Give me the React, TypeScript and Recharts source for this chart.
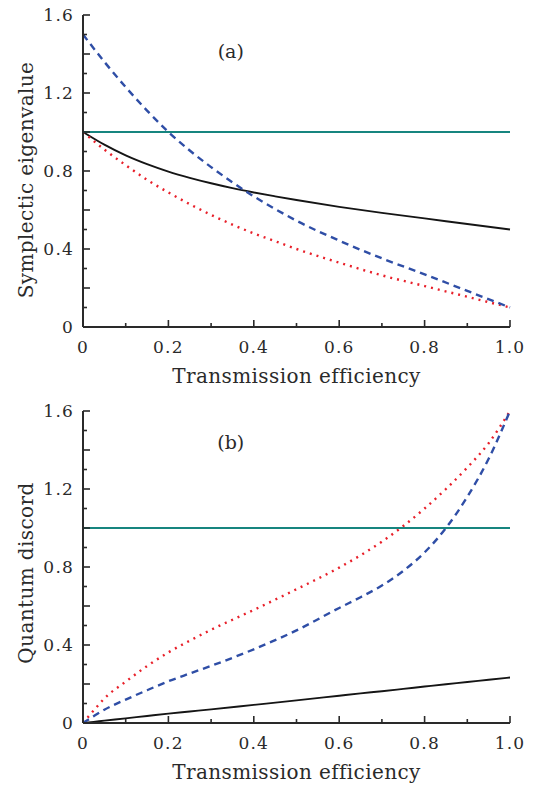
import React from "react";
import { Label, Line, LineChart, ReferenceDot, ReferenceLine, XAxis, YAxis } from "recharts";

// panel (a): symplectic eigenvalue vs transmission efficiency
const A_X = [0, 0.05, 0.1, 0.15, 0.2, 0.25, 0.3, 0.35, 0.4, 0.45, 0.5, 0.6, 0.7, 0.8, 0.9, 1.0];
const A_BLACK = [1.0, 0.935, 0.88, 0.835, 0.797, 0.765, 0.737, 0.712, 0.69, 0.67, 0.651, 0.616, 0.585, 0.557, 0.528, 0.5];
const A_RED = [1.0, 0.91, 0.83, 0.755, 0.69, 0.63, 0.575, 0.525, 0.48, 0.44, 0.4, 0.33, 0.265, 0.21, 0.155, 0.1];
const A_BLUE = [1.5, 1.36, 1.23, 1.11, 1.0, 0.905, 0.82, 0.742, 0.67, 0.605, 0.545, 0.443, 0.352, 0.27, 0.185, 0.1];

// panel (b): quantum discord vs transmission efficiency
const B_X = [0, 0.025, 0.05, 0.1, 0.15, 0.2, 0.25, 0.3, 0.4, 0.5, 0.6, 0.65, 0.7, 0.75, 0.8, 0.85, 0.9, 0.95, 1.0];
const B_BLACK = [0, 0.006, 0.012, 0.024, 0.036, 0.048, 0.059, 0.07, 0.093, 0.116, 0.14, 0.152, 0.163, 0.175, 0.187, 0.199, 0.21, 0.222, 0.233];
const B_RED = [0, 0.064, 0.126, 0.212, 0.292, 0.362, 0.422, 0.478, 0.58, 0.686, 0.797, 0.86, 0.93, 1.01, 1.1, 1.2, 1.31, 1.435, 1.6];
const B_BLUE = [0, 0.035, 0.068, 0.12, 0.168, 0.214, 0.254, 0.293, 0.378, 0.475, 0.59, 0.645, 0.705, 0.78, 0.875, 1.0, 1.16, 1.355, 1.6];

const THRESHOLD = 1;

const X_TICKS = [0, 0.1, 0.2, 0.3, 0.4, 0.5, 0.6, 0.7, 0.8, 0.9, 1.0];
const Y_TICKS = [0, 0.1, 0.2, 0.3, 0.4, 0.5, 0.6, 0.7, 0.8, 0.9, 1.0, 1.1, 1.2, 1.3, 1.4, 1.5, 1.6];
const X_LABELS = ["0", "0.2", "0.4", "0.6", "0.8", "1.0"];
const Y_LABELS = ["0", "0.4", "0.8", "1.2", "1.6"];

const FONT = "'DejaVu Serif', serif";
const INK = "#2a2a2a";
const TEAL = "#16857f";
const BLUE = "#2f4ea6";
const RED = "#e8202a";

const fmt = (v: number) => (Math.abs(v) < 1e-9 ? "0" : v.toFixed(1));
const isMajor = (v: number) => Math.abs(v * 5 - Math.round(v * 5)) < 1e-6;

function makeTick(side: "bottom" | "top" | "left" | "right", labels: string[]) {
  return (props: any) => {
    const { x, y, payload } = props;
    const v = payload.value as number;
    const len = isMajor(v) ? 7 : 4;
    const text = fmt(v);
    const show = labels.includes(text);
    let line;
    if (side === "bottom") line = <line x1={x} y1={y} x2={x} y2={y - len} />;
    else if (side === "top") line = <line x1={x} y1={y} x2={x} y2={y + len} />;
    else if (side === "left") line = <line x1={x} y1={y} x2={x + len} y2={y} />;
    else line = <line x1={x} y1={y} x2={x - len} y2={y} />;
    return (
      <g>
        <g stroke={INK} strokeWidth={1.6}>{line}</g>
        {show && side === "bottom" && (
          <text x={x} y={y + 26} textAnchor="middle" fontFamily={FONT} fontSize={17} letterSpacing={1.2} fill={INK}>
            {text}
          </text>
        )}
        {show && side === "left" && (
          <text x={x - 9} y={y} textAnchor="end" dominantBaseline="central" fontFamily={FONT} fontSize={17} letterSpacing={1.2} fill={INK}>
            {text}
          </text>
        )}
      </g>
    );
  };
}

type PanelProps = {
  x: number[];
  black: number[];
  red: number[];
  blue: number[];
  yTitle: string;
  tag: string;
  tagY: number;
  titleShift: number;
};

function Panel({ x, black, red, blue, yTitle, tag, tagY, titleShift }: PanelProps) {
  const data = x.map((xv, i) => ({ x: xv, black: black[i], red: red[i], blue: blue[i] }));
  const axisLine = { stroke: INK, strokeWidth: 2 };
  return (
    <LineChart width={538} height={392} data={data} margin={{ top: 15, right: 28, bottom: 0, left: 0 }}>
      <XAxis
        type="number"
        dataKey="x"
        domain={[0, 1]}
        ticks={X_TICKS}
        interval={0}
        height={65}
        tickSize={0}
        tickMargin={0}
        tickLine={false}
        axisLine={axisLine}
        tick={makeTick("bottom", X_LABELS)}
      >
        <Label
          content={({ viewBox }: any) => (
            <text
              x={viewBox.x + viewBox.width / 2}
              y={viewBox.y + 56}
              textAnchor="middle"
              fontFamily={FONT}
              fontSize={20}
              letterSpacing={0.4}
              fill={INK}
            >
              Transmission efficiency
            </text>
          )}
        />
      </XAxis>
      <XAxis
        xAxisId="top"
        orientation="top"
        type="number"
        dataKey="x"
        domain={[0, 1]}
        ticks={X_TICKS}
        interval={0}
        height={0}
        tickSize={0}
        tickMargin={0}
        tickLine={false}
        axisLine={axisLine}
        tick={makeTick("top", [])}
      />
      <YAxis
        type="number"
        domain={[0, 1.6]}
        ticks={Y_TICKS}
        interval={0}
        width={83}
        tickSize={0}
        tickMargin={0}
        tickLine={false}
        axisLine={axisLine}
        tick={makeTick("left", Y_LABELS)}
      >
        <Label
          content={({ viewBox }: any) => {
            const cx = 26;
            const cy = viewBox.y + viewBox.height / 2 + titleShift;
            return (
              <text
                x={cx}
                y={cy}
                transform={`rotate(-90 ${cx} ${cy})`}
                textAnchor="middle"
                dominantBaseline="central"
                fontFamily={FONT}
                fontSize={20}
                letterSpacing={0.4}
                fill={INK}
              >
                {yTitle}
              </text>
            );
          }}
        />
      </YAxis>
      <YAxis
        yAxisId="right"
        orientation="right"
        type="number"
        domain={[0, 1.6]}
        ticks={Y_TICKS}
        interval={0}
        width={0}
        tickSize={0}
        tickMargin={0}
        tickLine={false}
        axisLine={axisLine}
        tick={makeTick("right", [])}
      />
      <Line type="monotone" dataKey="black" stroke="#151515" strokeWidth={1.9} dot={false} activeDot={false} isAnimationActive={false} />
      <Line type="monotone" dataKey="red" stroke={RED} strokeWidth={2.4} strokeDasharray="2 5" dot={false} activeDot={false} isAnimationActive={false} />
      <Line type="monotone" dataKey="blue" stroke={BLUE} strokeWidth={2.4} strokeDasharray="7 5" dot={false} activeDot={false} isAnimationActive={false} />
      <ReferenceLine y={THRESHOLD} stroke={TEAL} strokeWidth={2.2} />
      <ReferenceDot
        x={0.346}
        y={tagY}
        r={0}
        fill="none"
        stroke="none"
        label={(p: any) => (
          <text
            x={p.viewBox.x + (p.viewBox.width || 0) / 2}
            y={p.viewBox.y + (p.viewBox.height || 0) / 2}
            textAnchor="middle"
            dominantBaseline="central"
            fontFamily={FONT}
            fontSize={19}
            fill={INK}
          >
            {tag}
          </text>
        )}
      />
    </LineChart>
  );
}

export default function App() {
  return (
    <div style={{ position: "absolute", left: 0, top: 0, width: 538, height: 785, background: "#fff" }}>
      <div style={{ position: "absolute", left: 0, top: 0 }}>
        <Panel x={A_X} black={A_BLACK} red={A_RED} blue={A_BLUE} yTitle="Symplectic eigenvalue" tag="(a)" tagY={1.417} titleShift={9} />
      </div>
      <div style={{ position: "absolute", left: 0, top: 396 }}>
        <Panel x={B_X} black={B_BLACK} red={B_RED} blue={B_BLUE} yTitle="Quantum discord" tag="(b)" tagY={1.443} titleShift={6} />
      </div>
    </div>
  );
}
